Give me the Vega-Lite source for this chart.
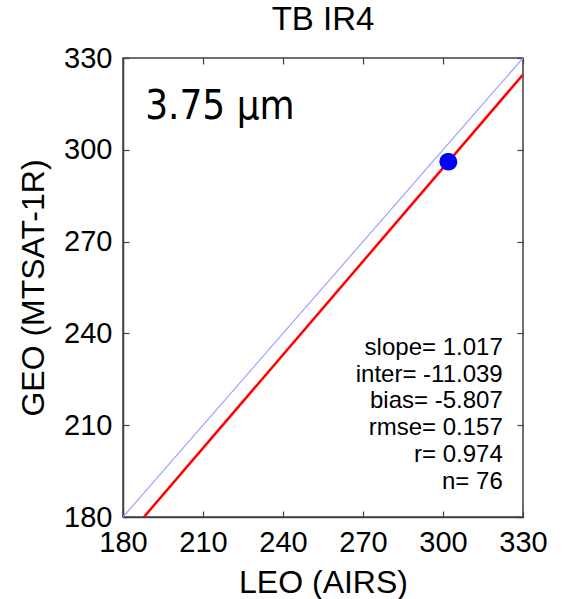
{
  "$schema": "https://vega.github.io/schema/vega-lite/v6.json",
  "width": 400,
  "height": 459,
  "autosize": {"type": "none"},
  "padding": {"left": 123, "top": 58, "right": 42, "bottom": 82},
  "background": "white",
  "datasets": {
    "oneToOne": [{"leo": 180, "geo": 180}, {"leo": 330, "geo": 330}],
    "fit": [{"leo": 187.85, "geo": 180}, {"leo": 330, "geo": 324.57}],
    "points": [
      {"leo": 301.8, "geo": 295.9},
      {"leo": 302.2, "geo": 296.3},
      {"leo": 302.0, "geo": 296.1},
      {"leo": 301.6, "geo": 296.2},
      {"leo": 302.4, "geo": 296.0},
      {"leo": 302.1, "geo": 295.8},
      {"leo": 301.9, "geo": 296.4}
    ],
    "stats": [
      {"leo": 322.4, "geo": 235.2, "label": "slope= 1.017"},
      {"leo": 322.4, "geo": 226.4, "label": "inter= -11.039"},
      {"leo": 322.4, "geo": 217.9, "label": "bias= -5.807"},
      {"leo": 322.4, "geo": 209.1, "label": "rmse= 0.157"},
      {"leo": 322.4, "geo": 200.3, "label": "r= 0.974"},
      {"leo": 322.4, "geo": 191.4, "label": "n= 76"}
    ],
    "band": [{"leo": 188.3, "geo": 314.1, "label": "3.75 μm"}],
    "heading": [{"leo": 255, "geo": 342.3, "label": "TB IR4"}]
  },
  "config": {
    "view": {"stroke": "#404040", "strokeWidth": 1.5},
    "axis": {
      "grid": false,
      "domainColor": "#404040",
      "domainWidth": 1.5,
      "tickColor": "#404040",
      "tickWidth": 1.2,
      "labelFont": "Liberation Sans",
      "labelFontSize": 29,
      "labelColor": "black",
      "titleFont": "Liberation Sans",
      "titleFontSize": 32,
      "titleFontWeight": "normal",
      "titleColor": "black"
    }
  },
  "resolve": {"axis": {"x": "independent", "y": "independent"}},
  "layer": [
    {
      "data": {"name": "oneToOne"},
      "mark": {"type": "line", "color": "#a0a0ff", "strokeWidth": 1.2, "clip": true},
      "encoding": {
        "x": {"field": "leo", "type": "quantitative", "scale": {"domain": [180, 330], "nice": false, "zero": false},
              "axis": {"orient": "bottom", "values": [180, 210, 240, 270, 300, 330], "ticks": true, "tickSize": 0, "labelPadding": 11, "title": "LEO (AIRS)", "titlePadding": 10, "labelFlush": false}},
        "y": {"field": "geo", "type": "quantitative", "scale": {"domain": [180, 330], "nice": false, "zero": false},
              "axis": {"orient": "left", "values": [180, 210, 240, 270, 300, 330], "ticks": true, "tickSize": 0, "labelPadding": 11, "title": "GEO (MTSAT-1R)", "titlePadding": 13, "labelFlush": false}}
      }
    },
    {
      "data": {"name": "fit"},
      "mark": {"type": "line", "color": "#ff0000", "strokeWidth": 2.5, "clip": true},
      "encoding": {
        "x": {"field": "leo", "type": "quantitative", "scale": {"domain": [180, 330], "nice": false, "zero": false},
              "axis": {"orient": "top", "offset": -459, "domain": false, "values": [180, 210, 240, 270, 300, 330], "tickSize": 6, "labels": false, "title": null}},
        "y": {"field": "geo", "type": "quantitative", "scale": {"domain": [180, 330], "nice": false, "zero": false},
              "axis": {"orient": "right", "offset": -400, "domain": false, "values": [180, 210, 240, 270, 300, 330], "tickSize": 6, "labels": false, "title": null}}
      }
    },
    {
      "data": {"name": "points"},
      "mark": {"type": "point", "shape": "circle", "filled": true, "color": "#0000ff", "opacity": 1, "size": 250},
      "encoding": {
        "x": {"field": "leo", "type": "quantitative",
              "axis": {"orient": "bottom", "offset": -459, "domain": false, "values": [180, 210, 240, 270, 300, 330], "tickSize": 6, "labels": false, "title": null}},
        "y": {"field": "geo", "type": "quantitative",
              "axis": {"orient": "left", "offset": -400, "domain": false, "values": [180, 210, 240, 270, 300, 330], "tickSize": 6, "labels": false, "title": null}}
      }
    },
    {
      "data": {"name": "stats"},
      "mark": {"type": "text", "align": "right", "baseline": "middle", "font": "Liberation Sans", "fontSize": 24, "color": "black"},
      "encoding": {
        "x": {"field": "leo", "type": "quantitative", "axis": null},
        "y": {"field": "geo", "type": "quantitative", "axis": null},
        "text": {"field": "label"}
      }
    },
    {
      "data": {"name": "band"},
      "mark": {"type": "text", "align": "left", "baseline": "middle", "font": "'DejaVu Sans Condensed', 'Liberation Sans', sans-serif", "fontSize": 40, "color": "black"},
      "encoding": {
        "x": {"field": "leo", "type": "quantitative", "axis": null},
        "y": {"field": "geo", "type": "quantitative", "axis": null},
        "text": {"field": "label"}
      }
    },
    {
      "data": {"name": "heading"},
      "mark": {"type": "text", "align": "center", "baseline": "middle", "font": "Liberation Sans", "fontSize": 33, "color": "black", "clip": false},
      "encoding": {
        "x": {"field": "leo", "type": "quantitative", "axis": null},
        "y": {"field": "geo", "type": "quantitative", "axis": null},
        "text": {"field": "label"}
      }
    }
  ]
}
